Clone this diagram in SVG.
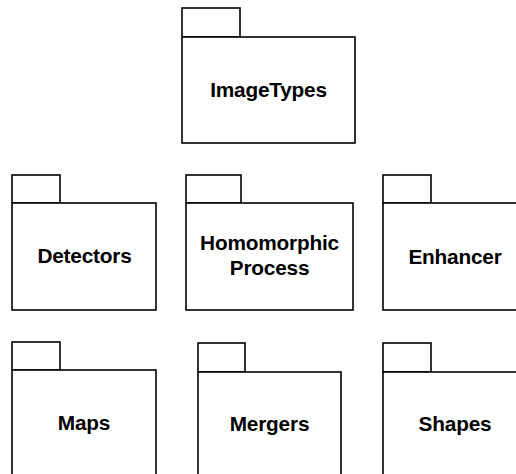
<svg xmlns="http://www.w3.org/2000/svg" width="516" height="474" viewBox="0 0 516 474">
<style>
.pk{fill:#fff;stroke:#000;stroke-width:1.6}
.lb{font-family:"Liberation Sans",Arial,sans-serif;font-weight:bold;font-size:20.8px;fill:#000;text-anchor:middle;letter-spacing:-0.2px}
</style>
<rect width="516" height="474" fill="#fff"/>
<g id="connectors"></g>
<g id="ImageTypes">
<rect class="pk" x="182" y="8" width="58" height="29"/>
<rect class="pk" x="182" y="37" width="173" height="106"/>
<text class="lb" x="268.5" y="97">ImageTypes</text>
</g>
<g id="Detectors">
<rect class="pk" x="12" y="175" width="48" height="28"/>
<rect class="pk" x="12" y="203" width="144" height="107"/>
<text class="lb" x="84.5" y="263">Detectors</text>
</g>
<g id="HomomorphicProcess">
<rect class="pk" x="186" y="175" width="55" height="28"/>
<rect class="pk" x="186" y="203" width="167" height="107"/>
<text class="lb" x="269.5" y="250">Homomorphic</text>
<text class="lb" x="269.5" y="275">Process</text>
</g>
<g id="Enhancer">
<rect class="pk" x="383" y="175" width="48" height="28"/>
<rect class="pk" x="383" y="203" width="144" height="107"/>
<text class="lb" x="455" y="264">Enhancer</text>
</g>
<g id="Maps">
<rect class="pk" x="12" y="342" width="48" height="28"/>
<rect class="pk" x="12" y="370" width="144" height="107"/>
<text class="lb" x="84" y="430">Maps</text>
</g>
<g id="Mergers">
<rect class="pk" x="198" y="343" width="47" height="29"/>
<rect class="pk" x="198" y="372" width="143" height="107"/>
<text class="lb" x="269.5" y="431">Mergers</text>
</g>
<g id="Shapes">
<rect class="pk" x="383" y="343" width="48" height="29"/>
<rect class="pk" x="383" y="372" width="144" height="107"/>
<text class="lb" x="455" y="431">Shapes</text>
</g>
</svg>
